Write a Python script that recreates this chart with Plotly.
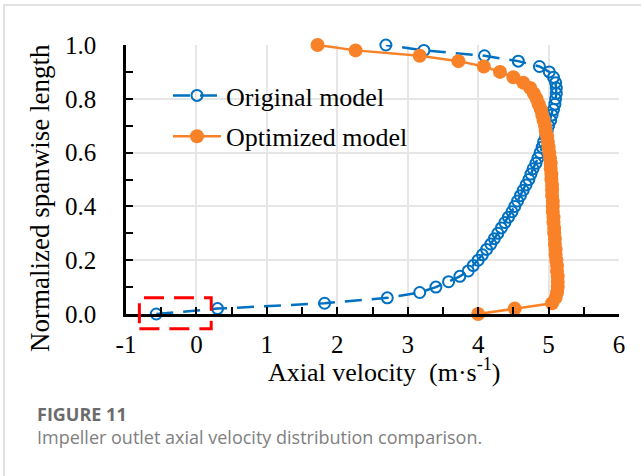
import plotly.graph_objects as go

# ---------------- data ----------------
span = [round(i * 0.02, 2) for i in range(51)]

original_x = [-0.57, 0.30, 1.82, 2.71, 3.17, 3.40, 3.58, 3.74, 3.86, 3.93,
              4.00, 4.06, 4.12, 4.18, 4.23, 4.28, 4.33, 4.38, 4.43, 4.48,
              4.52, 4.56, 4.60, 4.64, 4.68, 4.72, 4.75, 4.78, 4.82, 4.85,
              4.88, 4.91, 4.93, 4.96, 4.98, 5.00, 5.03, 5.05, 5.07, 5.09,
              5.10, 5.11, 5.11, 5.10, 5.07, 5.01, 4.87, 4.57, 4.09, 3.23, 2.69]

optimized_x = [4.00, 4.52, 5.05, 5.10, 5.12, 5.13, 5.13, 5.13, 5.12, 5.12,
               5.11, 5.10, 5.10, 5.09, 5.09, 5.08, 5.08, 5.07, 5.07, 5.06,
               5.06, 5.06, 5.05, 5.05, 5.05, 5.04, 5.04, 5.03, 5.03, 5.02,
               5.01, 5.00, 4.99, 4.98, 4.96, 4.95, 4.93, 4.91, 4.89, 4.86,
               4.83, 4.79, 4.74, 4.64, 4.50, 4.31, 4.08, 3.72, 3.17, 2.26, 1.72]

series_names = ["Original model", "Optimized model"]
x_ticks = [-1, 0, 1, 2, 3, 4, 5, 6]
y_ticks = [0.0, 0.2, 0.4, 0.6, 0.8, 1.0]
y_tick_text = ["0.0", "0.2", "0.4", "0.6", "0.8", "1.0"]

# highlighted region (data units)
box_x = [-0.81, 0.21]
box_y = [-0.055, 0.06]

x_title = "Axial velocity  (m·s<sup>-1</sup>)"
y_title = "Normalized spanwise length"
caption_head = "FIGURE 11"
caption_text = "Impeller outlet axial velocity distribution comparison."

# ---------------- layout geometry ----------------
W, H = 641, 476
ML, MR, MT, MB = 126, 22, 45, 162
PW, PH = W - ML - MR, H - MT - MB
XR = [-1, 6]
YR = [0, 1]


def px_x(px):
    return (px - ML) / PW


def px_y(py):
    return (H - MB - py) / PH


def dom_x(v):
    return (v - XR[0]) / (XR[1] - XR[0])


def dom_y(v):
    return (v - YR[0]) / (YR[1] - YR[0])


BLUE = "#0070C0"
ORANGE = "#F98229"
SERIF = "Liberation Serif, Times New Roman, serif"
GRID = "#E6E6E6"

fig = go.Figure()
fig.add_trace(go.Scatter(
    x=original_x, y=span, name=series_names[0], mode="lines+markers",
    legendgroup="a",
    line=dict(color=BLUE, width=2.5, dash="17px,10px"),
    marker=dict(symbol="circle-open", size=11, color=BLUE, line=dict(width=2)),
    cliponaxis=False))
fig.add_trace(go.Scatter(
    x=optimized_x, y=span, name=series_names[1], mode="lines+markers",
    legendgroup="b",
    line=dict(color=ORANGE, width=2.5),
    marker=dict(symbol="circle", size=14, color=ORANGE),
    cliponaxis=False))

fig.add_shape(type="rect", xref="x domain", yref="y domain",
              x0=dom_x(box_x[0]), x1=dom_x(box_x[1]),
              y0=dom_y(box_y[0]), y1=dom_y(box_y[1]),
              line=dict(color="#FF0000", width=3, dash="20px,10px"))

# card border
fig.add_shape(type="rect", xref="paper", yref="paper",
              x0=px_x(4), x1=px_x(W + 20), y0=px_y(H + 20), y1=px_y(5),
              line=dict(color="#D8D8D8", width=1.5), layer="below")

fig.update_layout(
    width=W, height=H,
    margin=dict(l=ML, r=MR, t=MT, b=MB),
    paper_bgcolor="white", plot_bgcolor="white",
    showlegend=True,
    legend=dict(x=px_x(168), y=px_y(72), xanchor="left", yanchor="top",
                bgcolor="rgba(0,0,0,0)", font=dict(family=SERIF, size=26, color="black"),
                itemwidth=48, tracegroupgap=4),
    xaxis=dict(range=XR, tickvals=x_ticks, ticktext=[str(v) for v in x_ticks],
               showgrid=True, gridcolor=GRID, gridwidth=1.5,
               showline=True, linecolor="black", linewidth=2.5,
               ticks="inside", ticklen=7, tickwidth=2, tickcolor="black",
               minor=dict(dtick=0.5, ticks="inside", ticklen=7, tickwidth=2,
                          tickcolor="black", showgrid=False),
               tickfont=dict(family=SERIF, size=25, color="black"),
               ticklabelstandoff=6, zeroline=False, fixedrange=True),
    yaxis=dict(range=YR, tickvals=y_ticks, ticktext=y_tick_text,
               showgrid=True, gridcolor=GRID, gridwidth=1.5,
               showline=True, linecolor="black", linewidth=2.5,
               ticks="inside", ticklen=7, tickwidth=2, tickcolor="black",
               minor=dict(dtick=0.1, ticks="inside", ticklen=7, tickwidth=2,
                          tickcolor="black", showgrid=False),
               tickfont=dict(family=SERIF, size=25, color="black"),
               ticklabelstandoff=22, zeroline=False, fixedrange=True),
)

fig.add_annotation(text=x_title, xref="paper", yref="paper",
                   x=px_x(384), y=px_y(370), xanchor="center", yanchor="middle",
                   showarrow=False, font=dict(family=SERIF, size=26, color="black"))
fig.add_annotation(text=y_title, xref="paper", yref="paper", textangle=-90,
                   x=px_x(40), y=px_y(198), xanchor="center", yanchor="middle",
                   showarrow=False, font=dict(family=SERIF, size=27, color="black"))
fig.add_annotation(text="<b>" + caption_head + "</b>", xref="paper", yref="paper",
                   x=px_x(35), y=px_y(414), xanchor="left", yanchor="middle",
                   showarrow=False, font=dict(family="Open Sans", size=18, color="#6B6B6B"))
fig.add_annotation(text=caption_text, xref="paper", yref="paper",
                   x=px_x(35), y=px_y(437), xanchor="left", yanchor="middle",
                   showarrow=False, font=dict(family="Open Sans", size=18, color="#808080"))

fig.write_html("out.html")
